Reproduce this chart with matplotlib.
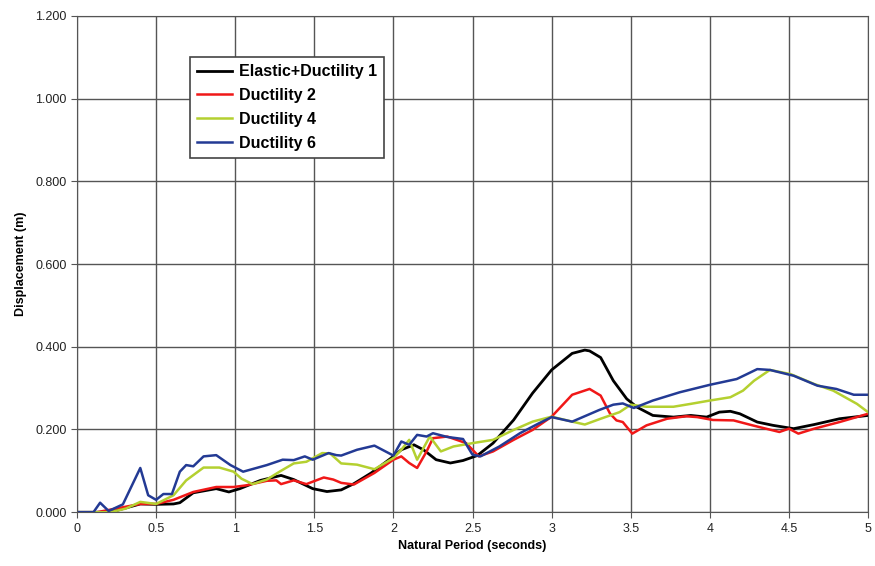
import matplotlib
matplotlib.use("Agg")
import matplotlib.pyplot as plt
from matplotlib.ticker import FormatStrFormatter, FuncFormatter

plt.rcParams['font.family'] = ['Liberation Sans', 'DejaVu Sans']

# Elastic + Ductility 1
t_el = [0, 0.21, 0.4, 0.5, 0.61, 0.65, 0.735, 0.88, 0.96, 1.03, 1.16, 1.29, 1.37, 1.49,
        1.58, 1.67, 1.75, 1.86, 2.0, 2.05, 2.13, 2.19, 2.27, 2.36, 2.44, 2.53, 2.63,
        2.76, 2.88, 3.0, 3.13, 3.21, 3.24, 3.31, 3.39, 3.475, 3.54, 3.64, 3.77, 3.88,
        3.98, 4.06, 4.13, 4.19, 4.3, 4.4, 4.53, 4.66, 4.82, 5.0]
d_el = [0, 0, 0.02, 0.019, 0.02, 0.023, 0.047, 0.057, 0.049, 0.057, 0.077, 0.089, 0.079,
        0.057, 0.05, 0.054, 0.069, 0.095, 0.135, 0.151, 0.163, 0.151, 0.127, 0.119,
        0.125, 0.137, 0.167, 0.223, 0.288, 0.344, 0.384, 0.392, 0.39, 0.374, 0.318,
        0.274, 0.254, 0.234, 0.23, 0.234, 0.23, 0.242, 0.244, 0.238, 0.218, 0.21,
        0.202, 0.212, 0.226, 0.234]

# Ductility 2
t_d2 = [0, 0.125, 0.4, 0.5, 0.61, 0.735, 0.88, 0.99, 1.07, 1.2, 1.26, 1.29, 1.37, 1.45,
        1.56, 1.62, 1.67, 1.75, 1.88, 2.0, 2.05, 2.1, 2.15, 2.21, 2.25, 2.34, 2.46,
        2.54, 2.63, 2.76, 2.88, 3.0, 3.13, 3.24, 3.31, 3.37, 3.41, 3.45, 3.51, 3.6,
        3.73, 3.85, 3.92, 4.02, 4.15, 4.27, 4.44, 4.5, 4.56, 4.66, 4.82, 5.0]
d_d2 = [0, 0, 0.02, 0.02, 0.03, 0.049, 0.061, 0.061, 0.065, 0.076, 0.077, 0.068, 0.077,
        0.068, 0.084, 0.079, 0.071, 0.067, 0.095, 0.127, 0.135, 0.119, 0.107, 0.147,
        0.179, 0.183, 0.167, 0.135, 0.147, 0.175, 0.199, 0.231, 0.284, 0.298, 0.282,
        0.238, 0.222, 0.218, 0.19, 0.21, 0.226, 0.232, 0.23, 0.223, 0.222, 0.21,
        0.194, 0.202, 0.19, 0.202, 0.218, 0.238]

# Ductility 4
t_d4 = [0, 0.21, 0.31, 0.4, 0.5, 0.61, 0.69, 0.8, 0.9, 0.99, 1.04, 1.11, 1.2, 1.28, 1.37,
        1.45, 1.55, 1.6, 1.67, 1.77, 1.88, 2.0, 2.05, 2.1, 2.15, 2.23, 2.3, 2.38, 2.5,
        2.63, 2.76, 2.88, 3.0, 3.13, 3.21, 3.31, 3.43, 3.5, 3.6, 3.77, 3.88, 4.0,
        4.13, 4.21, 4.28, 4.38, 4.51, 4.66, 4.78, 4.93, 5.0]
d_d4 = [0, 0, 0.009, 0.025, 0.02, 0.041, 0.077, 0.108, 0.108, 0.098, 0.081, 0.068, 0.079,
        0.098, 0.118, 0.122, 0.143, 0.142, 0.118, 0.115, 0.104, 0.131, 0.151, 0.175,
        0.127, 0.183, 0.147, 0.159, 0.167, 0.175, 0.199, 0.219, 0.231, 0.219, 0.212,
        0.226, 0.242, 0.26, 0.255, 0.255, 0.262, 0.27, 0.278, 0.294, 0.318, 0.344,
        0.334, 0.31, 0.294, 0.262, 0.242]

# Ductility 6
t_d6 = [0, 0.104, 0.146, 0.2, 0.29, 0.4, 0.45, 0.5, 0.546, 0.6, 0.65, 0.69, 0.735, 0.8,
        0.88, 0.97, 1.05, 1.2, 1.3, 1.37, 1.44, 1.49, 1.59, 1.64, 1.67, 1.77, 1.88,
        2.0, 2.05, 2.1, 2.15, 2.21, 2.25, 2.34, 2.44, 2.5, 2.55, 2.67, 2.8, 2.92, 3.0,
        3.13, 3.3, 3.39, 3.45, 3.52, 3.64, 3.81, 4.0, 4.17, 4.23, 4.3, 4.38, 4.53,
        4.68, 4.8, 4.91, 5.0]
d_d6 = [0, 0, 0.023, 0.003, 0.019, 0.107, 0.041, 0.03, 0.044, 0.044, 0.098, 0.114, 0.111,
        0.135, 0.138, 0.114, 0.098, 0.114, 0.127, 0.126, 0.135, 0.127, 0.143, 0.138,
        0.137, 0.151, 0.161, 0.137, 0.171, 0.163, 0.187, 0.183, 0.191, 0.182, 0.177,
        0.139, 0.135, 0.159, 0.191, 0.215, 0.23, 0.219, 0.247, 0.26, 0.263, 0.252,
        0.27, 0.29, 0.308, 0.322, 0.333, 0.346, 0.344, 0.33, 0.306, 0.298, 0.284, 0.284]

fig = plt.figure(figsize=(8.75, 5.66), dpi=100)
ax = fig.add_axes([0.088, 0.095, 0.904, 0.877])

ax.plot(t_el, d_el, color='black', lw=2.0, label='Elastic+Ductility 1')
ax.plot(t_d2, d_d2, color='#f01818', lw=1.8, label='Ductility 2')
ax.plot(t_d4, d_d4, color='#b4d030', lw=1.8, label='Ductility 4')
ax.plot(t_d6, d_d6, color='#233a94', lw=1.8, label='Ductility 6')

ax.set_xlim(0, 5)
ax.set_ylim(0, 1.2)
ax.set_xticks([0, 0.5, 1, 1.5, 2, 2.5, 3, 3.5, 4, 4.5, 5])
ax.set_yticks([0, 0.2, 0.4, 0.6, 0.8, 1.0, 1.2])
ax.xaxis.set_major_formatter(FuncFormatter(lambda v, p: f"{v:g}"))
ax.yaxis.set_major_formatter(FormatStrFormatter('%.3f'))
ax.grid(True, color='#555555', lw=1.0)
ax.set_axisbelow(True)
for s in ax.spines.values():
    s.set_color('#555555')
ax.tick_params(axis='both', labelsize=9, color='#555555', length=4, colors='#222222')

ax.set_xlabel('Natural Period (seconds)', fontsize=9, fontweight='bold', labelpad=4)
ax.set_ylabel('Displacement (m)', fontsize=9, fontweight='bold', labelpad=6)

leg = ax.legend(loc='upper left', bbox_to_anchor=(0.143, 0.917), borderaxespad=0,
                fancybox=False, framealpha=1, edgecolor='#444444',
                prop={'weight': 'bold', 'size': 11.5},
                handlelength=2.2, handletextpad=0.4, labelspacing=0.55, borderpad=0.45)
leg.get_frame().set_linewidth(1.2)

fig.savefig('out.png', dpi=100)
